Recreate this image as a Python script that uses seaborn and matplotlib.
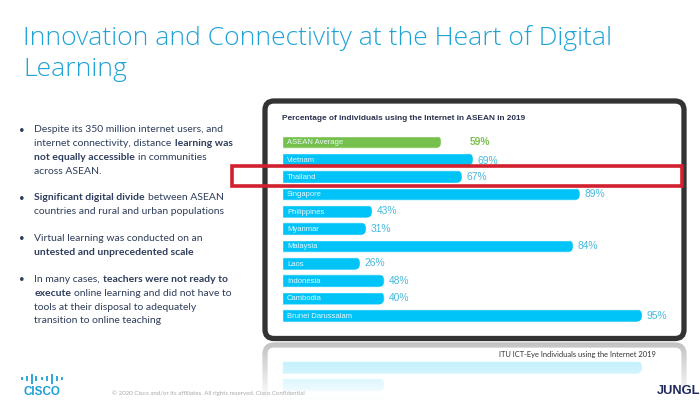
import numpy as np
import pandas as pd
import matplotlib
matplotlib.use("Agg")
import matplotlib.pyplot as plt
from matplotlib.patches import FancyBboxPatch, Rectangle
from matplotlib.transforms import IdentityTransform
import seaborn as sns

categories = ["ASEAN Average", "Vietnam", "Thailand", "Singapore", "Philippines", "Myanmar",
              "Malaysia", "Laos", "Indonesia", "Cambodia", "Brunei Darussalam"]
printed_values = [59, 69, 67, 89, 43, 31, 84, 26, 48, 40, 95]
# bar lengths as drawn in the picture (they do not follow the printed values)
drawn_lengths = [42, 50.4, 47.5, 78.6, 23.8, 22.2, 76.8, 20.6, 27, 27, 95]
label_gaps = [7.6, 1.2, 1.2, 1.2, 1.2, 1.2, 1.2, 1.2, 1.2, 1.2, 1.2]

title_lines = ["Innovation and Connectivity at the Heart of Digital", "Learning"]
chart_title = "Percentage of individuals using the Internet in ASEAN in 2019"
source_note = "ITU ICT-Eye Individuals using the Internet 2019"
footer = "\u00a9 2020 Cisco and/or its affiliates. All rights reserved. Cisco Confidential"

BLUE, GREEN, NAVY, TEAL = "#00c3f7", "#76c04e", "#2f3e5c", "#1fa3d6"
df = pd.DataFrame({"country": categories, "length": drawn_lengths})
palette = [GREEN] + [BLUE] * 10

sns.set_theme(style="white")
plt.rcParams["font.family"] = ["Lato", "DejaVu Sans"]
W, H = 700, 400
fig = plt.figure(figsize=(7, 4), dpi=100, facecolor="white")


def px_axes(z):
    a = fig.add_axes([0, 0, 1, 1], zorder=z)
    a.set_xlim(0, W)
    a.set_ylim(H, 0)
    a.axis("off")
    a.patch.set_alpha(0)
    return a


def bar_axes(top, bottom, z, flip=False):
    a = fig.add_axes([282 / W, 1 - bottom / H, 379 / W, (bottom - top) / H], zorder=z)
    sns.barplot(data=df, x="length", y="country", hue="country", palette=palette, legend=False,
                width=0.73, saturation=1, order=categories[::-1] if flip else categories, ax=a)
    a.set_xlim(0, 100)
    a.set_xlabel("")
    a.set_ylabel("")
    a.set_xticks([])
    a.set_yticks([])
    sns.despine(ax=a, left=True, bottom=True)
    a.patch.set_alpha(0)
    return a


def round_caps(a):
    fig.canvas.draw()
    for p in a.patches:
        e = p.get_window_extent()
        if e.width < 1:
            continue
        r = e.height / 2
        clip = FancyBboxPatch((e.x0 - 2 * r, e.y0), e.width + 2 * r, e.height,
                              boxstyle=f"round,pad=0,rounding_size={r}",
                              transform=IdentityTransform())
        p.set_clip_path(clip)


# background: device frame and its reflection
bg = px_axes(0)
bg.add_patch(FancyBboxPatch((265, 101), 419, 237.5, boxstyle="round,pad=0,rounding_size=9",
                            fc="white", ec="#333333", lw=3.8, zorder=2))
bg.add_patch(FancyBboxPatch((265, 345), 419, 237, boxstyle="round,pad=0,rounding_size=9",
                            fc="white", ec="#9a9a9a", lw=3.8, zorder=2))

# mirrored bars below the frame
refl = bar_axes(358.8, 549.7, 1, flip=True)
for p in refl.patches:
    p.set_alpha(0.6)
round_caps(refl)

# fade of the reflection
fade = px_axes(2)
grad = np.zeros((100, 2, 4))
grad[..., :3] = 1
grad[..., 3] = np.linspace(0.4, 1.0, 100)[:, None]
fade.imshow(grad, extent=(0, W, 400, 342), aspect="auto", zorder=1)
fade.set_xlim(0, W)
fade.set_ylim(H, 0)

# main chart
ax = bar_axes(133.3, 324.2, 3)
round_caps(ax)
for i, (name, val, ln, gap) in enumerate(zip(categories, printed_values, drawn_lengths, label_gaps)):
    col = "#7fc151" if i == 0 else "#45b9dc"
    ax.text(1.3, i + 0.04, name, color="#e9f8fd", va="center", ha="left", fontsize=5.5, family="Liberation Sans")
    ax.text(ln + gap, i + (0.07 if i == 1 else 0), f"{val}%", color=col, va="center", ha="left",
            fontsize=7.4, family="Liberation Sans", fontweight="bold" if i == 0 else "normal")

# foreground: texts and decorations
top = px_axes(4)
for y, line in zip((38, 70), title_lines):
    top.text(23, y, line, color=TEAL, fontsize=19.05, va="center", ha="left", family="Open Sans", fontweight="light")

top.text(282, 119, chart_title, color="#2b3350", fontsize=5.95, fontweight="bold", va="center",
         family="Liberation Sans")
top.text(499, 355, source_note, color="#333333", fontsize=5.4, va="center")
top.text(112, 393, footer, color="#a9a9a9", fontsize=4.4, va="center")

top.add_patch(Rectangle((232, 165.5), 450, 20.5, fill=False, ec="#d3202f", lw=2.6))

rend = fig.canvas.get_renderer()
SPACE = 2.8


def rich(y, parts):
    x = 34.5
    for txt, bold in parts:
        t = top.text(x, y, txt, color=NAVY, fontsize=7.45, va="center", ha="left",
                     fontweight="bold" if bold else "normal")
        x += t.get_window_extent(rend).width + SPACE


body = [
    (130, [("Despite its 350 million internet users, and", False)], True),
    (143.5, [("internet connectivity, distance", False), ("learning was", True)], False),
    (157, [("not equally accessible", True), ("in communities", False)], False),
    (171, [("across ASEAN.", False)], False),
    (198, [("Significant digital divide", True), ("between ASEAN", False)], True),
    (212, [("countries and rural and urban populations", False)], False),
    (238.5, [("Virtual learning was conducted on an", False)], True),
    (252.5, [("untested and unprecedented scale", True)], False),
    (279.5, [("In many cases,", False), ("teachers were not ready to", True)], True),
    (293, [("execute", True), ("online learning and did not have to", False)], False),
    (307, [("tools at their disposal to adequately", False)], False),
    (320.5, [("transition to online teaching", False)], False),
]
for y, parts, bullet in body:
    rich(y, parts)
    if bullet:
        top.text(22, y, "\u2022", color=NAVY, fontsize=7, va="center", ha="center")

# logos
logo_x = [22, 27, 31.5, 36, 42, 47, 52, 57, 62]
logo_h = [2.5, 5, 10, 5, 2.5, 5, 10, 5, 2.5]
top.vlines(logo_x, [378.5 - h / 2 for h in logo_h], [378.5 + h / 2 for h in logo_h], color="#1ba0d7", lw=1.3)
top.text(42, 392, "CISCO", color="#1b9ed4", fontsize=8.4, fontweight="bold", va="center", ha="center",
         family="Liberation Sans")
top.text(657, 391, "JUNGL", color="#1f2a5c", fontsize=9.3, fontweight="bold", va="center", ha="left",
         family="Liberation Sans")

fig.savefig("out.png", dpi=100)
